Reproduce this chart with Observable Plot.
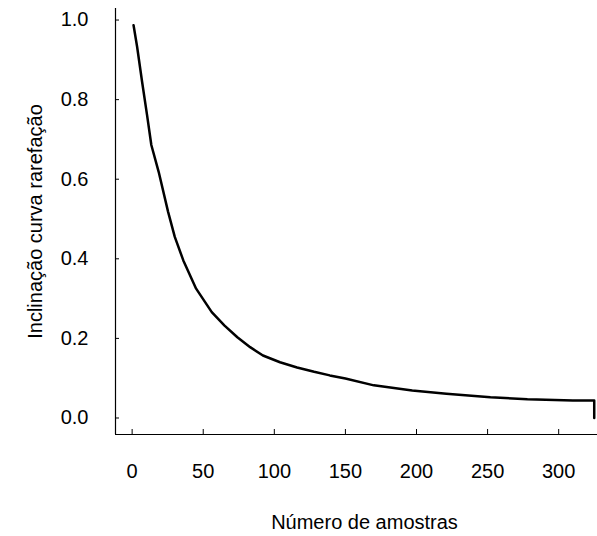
<!DOCTYPE html>
<html><head><meta charset="utf-8">
<script src="https://cdn.jsdelivr.net/npm/d3@7"></script>
<script src="https://cdn.jsdelivr.net/npm/@observablehq/plot@0.6"></script>
<style>body{margin:0;background:#fff}</style>
</head><body><div id="chart"></div>
<script>
const amostras = [1, 3.5, 7, 10.5, 13.5, 18.7, 25.3, 30, 36, 45, 56, 65, 74, 83, 92, 104, 116, 128, 139, 150, 170, 197, 221, 252, 278, 310, 325, 325];
const inclinacao = [0.987, 0.933, 0.845, 0.761, 0.686, 0.618, 0.518, 0.455, 0.396, 0.325, 0.266, 0.232, 0.203, 0.178, 0.157, 0.140, 0.127, 0.116, 0.107, 0.099, 0.082, 0.069, 0.061, 0.052, 0.047, 0.044, 0.044, 0.0];
const xTicks = [0, 50, 100, 150, 200, 250, 300];
const yTicks = [0, 0.2, 0.4, 0.6, 0.8, 1.0];
const xLabel = "Número de amostras";
const yLabel = "Inclinação curva rarefação";
const xDomain = [-11.7, 327.3];
const yDomain = [-0.0415, 1.029];

const data = amostras.map((n, i) => ({n, v: inclinacao[i]}));

const chart = Plot.plot({
  width: 597, height: 536,
  marginLeft: 115, marginRight: 0, marginTop: 8, marginBottom: 102,
  style: {fontFamily: "'Liberation Sans', Arial, sans-serif", fontSize: "20px", color: "#000", background: "#fff"},
  x: {domain: xDomain},
  y: {domain: yDomain},
  marks: [
    Plot.axisX(xTicks, {tickSize: -5, tickPadding: 34, tickFormat: d => String(d), label: null, fontSize: 20}),
    Plot.axisY(yTicks, {tickSize: -4, tickPadding: 31, tickFormat: d => d.toFixed(1), label: null, fontSize: 20}),
    Plot.ruleX([xDomain[0]], {stroke: "#000", strokeWidth: 1.2}),
    Plot.ruleY([yDomain[0]], {stroke: "#000", strokeWidth: 1.2}),
    Plot.line(data, {x: "n", y: "v", stroke: "#000", strokeWidth: 2.5}),
    Plot.text([xLabel], {frameAnchor: "bottom", dy: 88, dx: 8, textAnchor: "middle", lineAnchor: "middle", fontSize: 20}),
    Plot.text([yLabel], {frameAnchor: "left", dx: -80, rotate: -90, textAnchor: "middle", lineAnchor: "middle", fontSize: 20})
  ]
});
document.getElementById("chart").appendChild(chart);
</script>
</body></html>
